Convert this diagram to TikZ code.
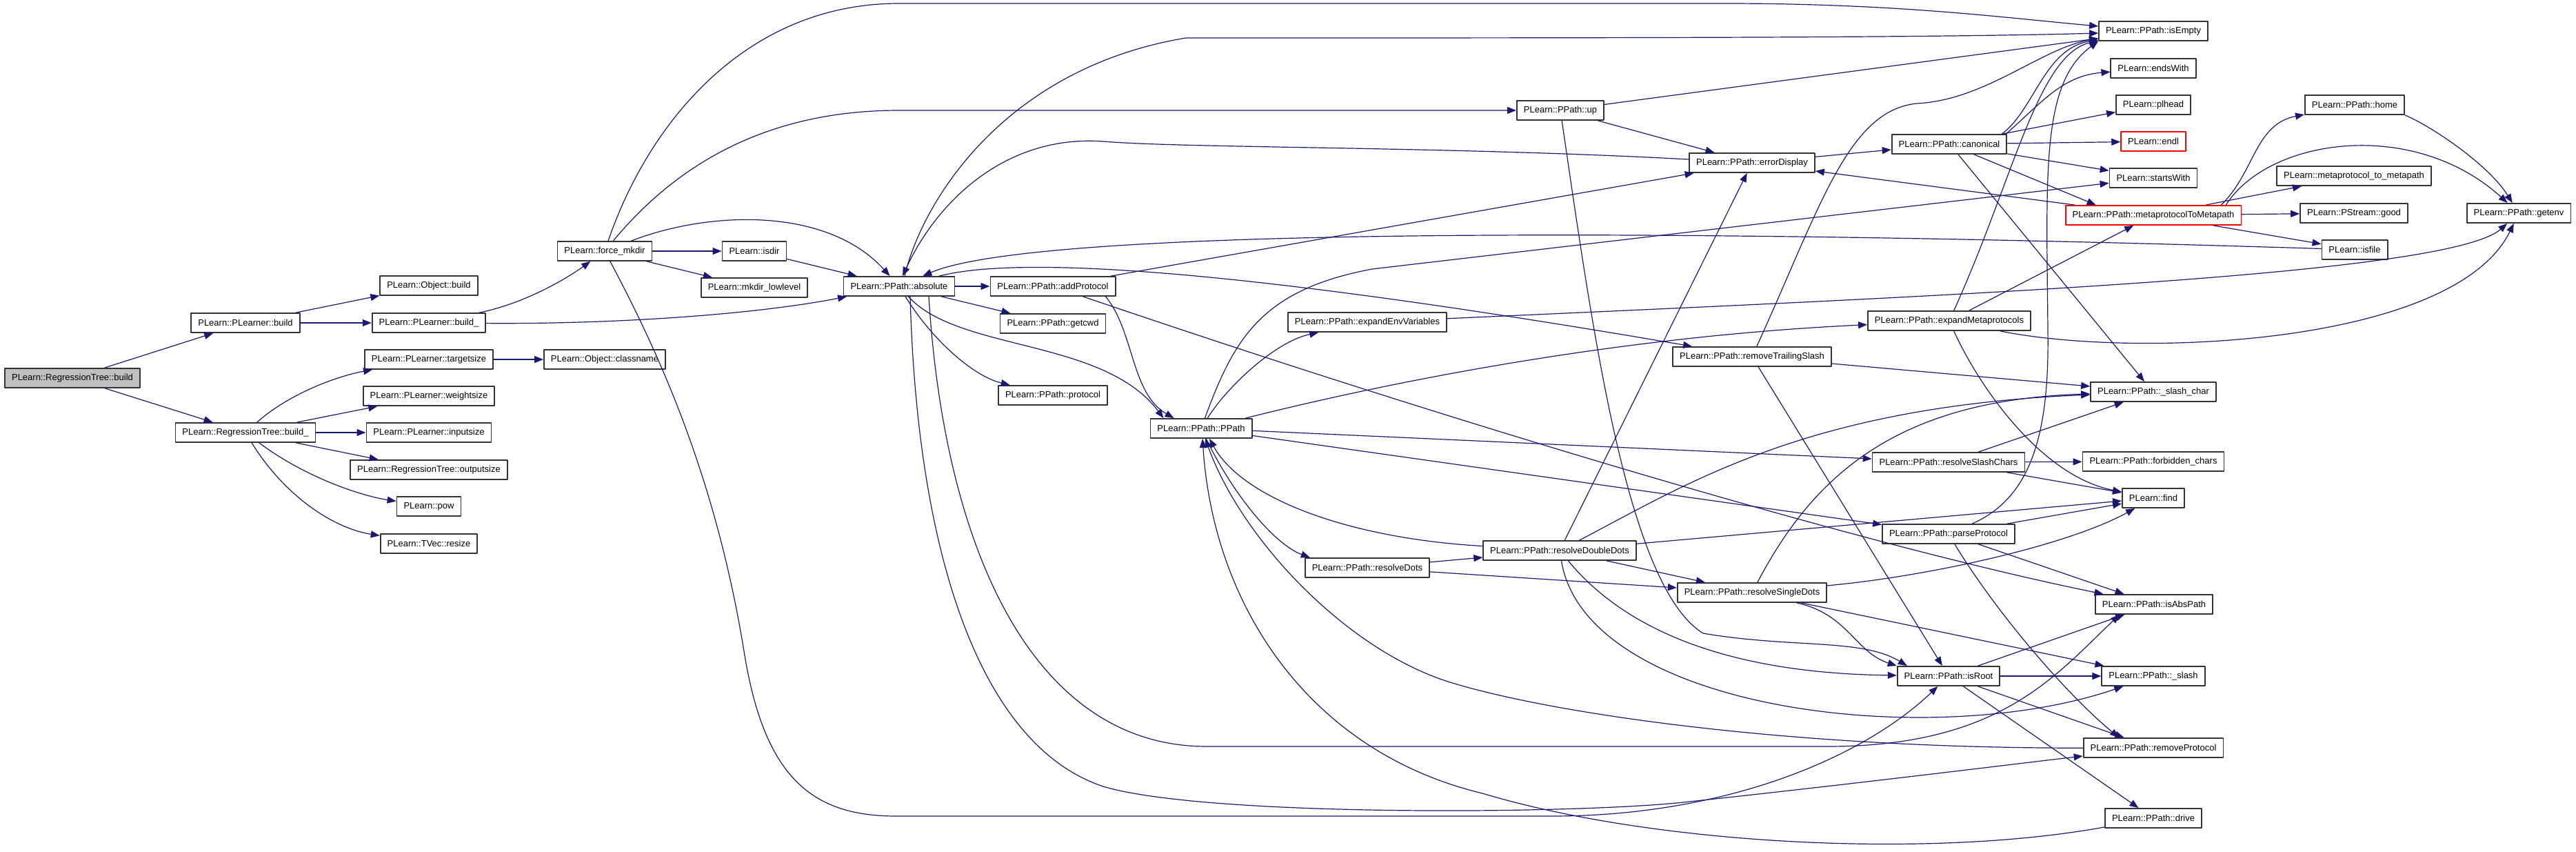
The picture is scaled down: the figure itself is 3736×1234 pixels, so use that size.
\documentclass[tikz,border=0pt]{standalone}
\usepackage{fontspec}
\setmainfont{Liberation Sans}
\usetikzlibrary{arrows.meta}
\definecolor{edgeblue}{RGB}{25,25,112}
\definecolor{rootgray}{RGB}{191,191,191}
\tikzset{
  fn/.style={draw=black!80, line width=1.8pt, fill=white, minimum height=28pt, inner xsep=10pt, inner ysep=0pt, font=\fontsize{13}{15}\selectfont},
  rootfn/.style={fn, fill=rootgray},
  redfn/.style={fn, draw=red},
  calls/.style={->, draw=edgeblue, line width=1.2pt},
}
\begin{document}
\begin{tikzpicture}[x=1pt, y=-1pt, >={Triangle[length=13pt,width=10pt]}, line join=round, line cap=round]
\path[fill=white] (0,0) rectangle (3736,1234);
\useasboundingbox (0,0) rectangle (3736,1234);
\node[rootfn] (rtBuild) at (105,548) {PLearn::RegressionTree::build};
\node[fn] (plBuild) at (356,468) {PLearn::PLearner::build};
\node[fn] (rtBuildU) at (356,627) {PLearn::RegressionTree::build\_};
\node[fn] (objBuild) at (622,414) {PLearn::Object::build};
\node[fn] (plBuildU) at (622,468) {PLearn::PLearner::build\_};
\node[fn] (targetsize) at (622,521) {PLearn::PLearner::targetsize};
\node[fn] (weightsize) at (622,574) {PLearn::PLearner::weightsize};
\node[fn] (inputsize) at (622,627) {PLearn::PLearner::inputsize};
\node[fn] (outputsize) at (622,681) {PLearn::RegressionTree::outputsize};
\node[fn] (pow) at (622,734) {PLearn::pow};
\node[fn] (resize) at (622,788) {PLearn::TVec::resize};
\node[fn] (forceMkdir) at (877,364) {PLearn::force\_mkdir};
\node[fn] (classname) at (877,521) {PLearn::Object::classname};
\node[fn] (isdir) at (1094,364) {PLearn::isdir};
\node[fn] (mkdirLow) at (1094,417) {PLearn::mkdir\_lowlevel};
\node[fn] (absolute) at (1304,415) {PLearn::PPath::absolute};
\node[fn] (addProtocol) at (1527,415) {PLearn::PPath::addProtocol};
\node[fn] (getcwd) at (1527,469) {PLearn::PPath::getcwd};
\node[fn] (protocol) at (1527,573) {PLearn::PPath::protocol};
\node[fn] (ppath) at (1742,621) {PLearn::PPath::PPath};
\node[fn] (expandEnv) at (1983,467) {PLearn::PPath::expandEnvVariables};
\node[fn] (resolveDots) at (1983,823) {PLearn::PPath::resolveDots};
\node[fn] (up) at (2263,160) {PLearn::PPath::up};
\node[fn] (resolveDD) at (2262,798) {PLearn::PPath::resolveDoubleDots};
\node[fn] (errorDisplay) at (2541,236) {PLearn::PPath::errorDisplay};
\node[fn] (removeTS) at (2541,517) {PLearn::PPath::removeTrailingSlash};
\node[fn] (resolveSD) at (2541,859) {PLearn::PPath::resolveSingleDots};
\node[fn] (canonical) at (2827,209) {PLearn::PPath::canonical};
\node[fn] (expandMeta) at (2827,465) {PLearn::PPath::expandMetaprotocols};
\node[fn] (resolveSC) at (2826,670) {PLearn::PPath::resolveSlashChars};
\node[fn] (parseProtocol) at (2826,774) {PLearn::PPath::parseProtocol};
\node[fn] (isRoot) at (2826,980) {PLearn::PPath::isRoot};
\node[fn] (isEmpty) at (3123,45) {PLearn::PPath::isEmpty};
\node[fn] (endsWith) at (3123,99) {PLearn::endsWith};
\node[fn] (plhead) at (3123,152) {PLearn::plhead};
\node[redfn] (endl) at (3123,205) {PLearn::endl};
\node[fn] (startsWith) at (3123,258) {PLearn::startsWith};
\node[redfn] (metaToMeta) at (3123,312) {PLearn::PPath::metaprotocolToMetapath};
\node[fn] (slashChar) at (3123,568) {PLearn::PPath::\_slash\_char};
\node[fn] (forbidden) at (3123,669) {PLearn::PPath::forbidden\_chars};
\node[fn] (find) at (3123,722) {PLearn::find};
\node[fn] (isAbsPath) at (3124,876) {PLearn::PPath::isAbsPath};
\node[fn] (slash) at (3123,980) {PLearn::PPath::\_slash};
\node[fn] (removeProtocol) at (3123,1084) {PLearn::PPath::removeProtocol};
\node[fn] (drive) at (3123,1186) {PLearn::PPath::drive};
\node[fn] (home) at (3415,152) {PLearn::PPath::home};
\node[fn] (mpToMp) at (3414,255) {PLearn::metaprotocol\_to\_metapath};
\node[fn] (good) at (3414,309) {PLearn::PStream::good};
\node[fn] (isfile) at (3415,362) {PLearn::isfile};
\node[fn] (getenv) at (3653,309) {PLearn::PPath::getenv};
\foreach \a/\b in {rtBuild/plBuild, rtBuild/rtBuildU, plBuild/objBuild, plBuild/plBuildU,
  rtBuildU/weightsize, rtBuildU/inputsize, rtBuildU/outputsize, targetsize/classname,
  forceMkdir/isdir, forceMkdir/mkdirLow, isdir/absolute, absolute/addProtocol, absolute/getcwd,
  addProtocol/errorDisplay, ppath/resolveSC, ppath/parseProtocol, resolveDots/resolveDD,
  resolveDots/resolveSD, resolveDD/errorDisplay, resolveDD/find, resolveDD/resolveSD,
  up/isEmpty, up/errorDisplay, removeTS/isRoot, removeTS/slashChar, errorDisplay/canonical,
  canonical/plhead, canonical/endl, canonical/startsWith, metaToMeta/errorDisplay,
  metaToMeta/mpToMp, metaToMeta/good, metaToMeta/isfile, expandMeta/metaToMeta,
  resolveSC/forbidden, resolveSC/find, resolveSC/slashChar, parseProtocol/find,
  parseProtocol/isAbsPath, isRoot/isAbsPath, isRoot/slash, isRoot/removeProtocol,
  isRoot/drive, resolveSD/slash}
  \draw[calls] (\a) -- (\b);
\draw[calls] (rtBuildU) .. controls (420,570) and (490,545) .. (targetsize);
\draw[calls] (rtBuildU) .. controls (440,690) and (520,718) .. (pow);
\draw[calls] (rtBuildU) .. controls (410,715) and (480,765) .. (resize);
\draw[calls] (plBuildU) .. controls (760,440) and (820,405) .. (forceMkdir);
\draw[calls] (plBuildU) .. controls (900,470) and (1100,455) .. (absolute);
\draw[calls] (forceMkdir) .. controls (940,180) and (1080,5) .. (1304,5) -- (2500,5)
  .. controls (2750,5) and (2900,25) .. ([yshift=7pt]isEmpty.west);
\draw[calls] (forceMkdir) .. controls (980,240) and (1110,160) .. (1304,160) -- (up);
\draw[calls] (forceMkdir) .. controls (1030,305) and (1200,300) .. (absolute);
\draw[calls] (forceMkdir) .. controls (960,520) and (1040,700) .. (1080,950)
  .. controls (1110,1130) and (1180,1183) .. (1300,1183) -- (2250,1183)
  .. controls (2500,1183) and (2700,1100) .. (isRoot);
\draw[calls] ([xshift=8pt]absolute.north) .. controls (1335,300) and (1450,100) .. (1720,55)
  .. controls (2300,55) and (2800,55) .. ([yshift=-3pt]isEmpty.west);
\draw[calls] (absolute) .. controls (1350,490) and (1410,545) .. (protocol);
\draw[calls] (absolute) .. controls (1390,510) and (1600,490) .. ([xshift=20pt]ppath.north west);
\draw[calls] ([xshift=-15pt]addProtocol.south east) .. controls (1645,480) and (1640,570) .. ([xshift=35pt]ppath.north west);
\draw[calls] (addProtocol) .. controls (2100,610) and (2700,790) .. (isAbsPath);
\draw[calls] (errorDisplay) .. controls (2100,212) and (1720,215) .. (1600,205)
  .. controls (1460,195) and (1360,290) .. ([xshift=5pt]absolute.north);
\draw[calls] (isfile) .. controls (2400,330) and (1500,330) .. (absolute);
\draw[calls] (absolute) .. controls (1480,370) and (1800,390) .. (removeTS);
\draw[calls] ([xshift=16pt]absolute.south) .. controls (1330,800) and (1420,1080) .. (1600,1140)
  .. controls (1750,1185) and (2300,1180) .. (2450,1162)
  .. controls (2700,1135) and (2900,1110) .. (removeProtocol);
\draw[calls] ([xshift=43pt]absolute.south) .. controls (1370,800) and (1500,1082) .. (1750,1082) -- (2650,1082)
  .. controls (2900,1082) and (2980,980) .. ([xshift=-50pt]isAbsPath.south);
\draw[calls] (ppath) .. controls (1780,560) and (1850,495) .. (expandEnv);
\draw[calls] (ppath) .. controls (1790,490) and (1830,420) .. (1990,390) -- (startsWith);
\draw[calls] ([xshift=-10pt]ppath.north east) .. controls (1950,570) and (2300,490) .. (expandMeta);
\draw[calls] (ppath) .. controls (1790,720) and (1850,790) .. ([xshift=8pt]resolveDots.north west);
\draw[calls] (resolveDD) .. controls (1950,780) and (1800,720) .. ([xshift=12pt]ppath.south);
\draw[calls] (resolveDD) .. controls (2450,700) and (2620,590) .. (slashChar);
\draw[calls] (resolveDD) .. controls (2330,880) and (2450,975) .. (isRoot);
\draw[calls] (resolveDD) .. controls (2300,1030) and (2800,1090) .. (slash);
\draw[calls] (up) .. controls (2310,480) and (2360,850) .. (2470,918)
  .. controls (2600,940) and (2700,925) .. ([xshift=15pt]isRoot.north west);
\draw[calls] (removeTS) .. controls (2640,300) and (2680,160) .. (2780,150)
  .. controls (2880,145) and (2960,70) .. ([yshift=4pt]isEmpty.south west);
\draw[calls] ([xshift=-8pt]canonical.north east) .. controls (2950,160) and (2965,70) .. ([yshift=2pt]isEmpty.south west);
\draw[calls] ([xshift=-2pt]canonical.north east) .. controls (2960,150) and (2990,110) .. (endsWith);
\draw[calls] (canonical) -- ([xshift=45pt]metaToMeta.north west);
\draw[calls] ([xshift=13pt]canonical.south) -- ([xshift=-13pt]slashChar.north);
\draw[calls] ([xshift=-30pt]metaToMeta.north east) .. controls (3270,250) and (3270,180) .. (home);
\draw[calls] ([xshift=-23pt]metaToMeta.north east) .. controls (3290,200) and (3500,170) .. (getenv);
\draw[calls] (home.south east) .. controls (3530,185) and (3610,240) .. (getenv);
\draw[calls] (expandEnv) .. controls (2800,430) and (3550,400) .. (getenv);
\draw[calls] (expandMeta) .. controls (3100,520) and (3560,500) .. (getenv);
\draw[calls] (expandMeta) .. controls (2920,260) and (2955,80) .. ([yshift=1pt]isEmpty.south west);
\draw[calls] (expandMeta) .. controls (2870,560) and (2960,690) .. (find);
\draw[calls] (parseProtocol) .. controls (2950,720) and (2972,620) .. (2970,480)
  .. controls (2968,250) and (2960,120) .. (isEmpty.south west);
\draw[calls] (parseProtocol) .. controls (2890,880) and (2990,1000) .. ([xshift=-50pt]removeProtocol.north);
\draw[calls] (resolveSD) .. controls (2630,690) and (2750,580) .. (slashChar);
\draw[calls] (resolveSD) .. controls (2800,835) and (3000,790) .. (find);
\draw[calls] ([xshift=65pt]resolveSD.south) .. controls (2680,890) and (2690,945) .. (isRoot.north west);
\draw[calls] (removeProtocol) .. controls (2600,1085) and (2250,1035) .. (2100,988)
  .. controls (1950,940) and (1800,780) .. ([xshift=6pt]ppath.south);
\draw[calls] (drive) .. controls (2800,1245) and (2400,1225) .. (2150,1150)
  .. controls (1900,1090) and (1760,880) .. ([xshift=2pt]ppath.south);
\end{tikzpicture}
\end{document}
